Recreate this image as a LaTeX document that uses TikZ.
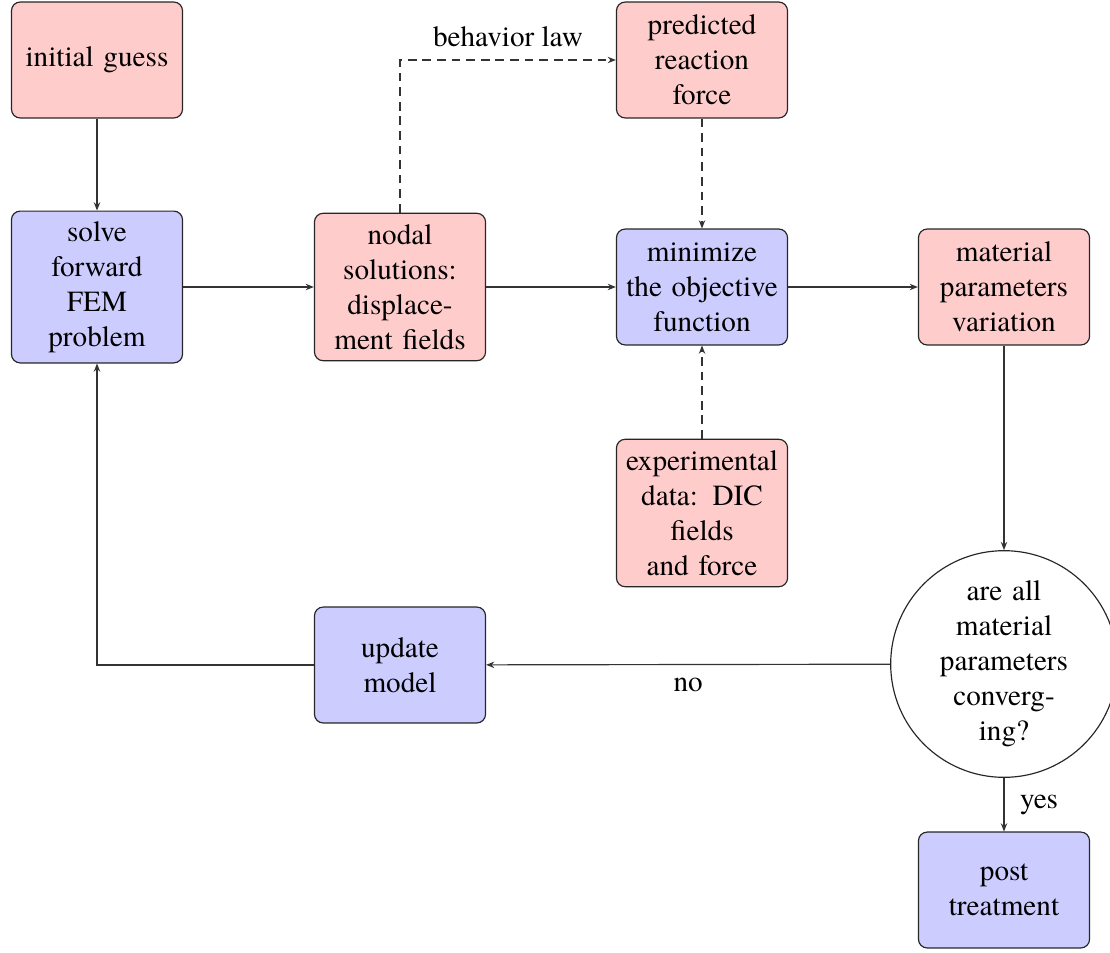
\documentclass[tikz,border=0pt]{standalone}
\usepackage{fontspec}
\setmainfont{texgyretermes}[Extension=.otf,UprightFont=*-regular,BoldFont=*-bold,ItalicFont=*-italic,BoldItalicFont=*-bolditalic]
\usetikzlibrary{arrows.meta,shapes.geometric}
\begin{document}
\begin{tikzpicture}[x=0.3425pt,y=-0.3425pt,
  font=\rmfamily\fontsize{10}{12}\selectfont,
  box/.style={draw=black!85,rounded corners=3pt,align=center,text width=53pt,
    minimum width=58.6pt,minimum height=39.7pt,inner xsep=2.8pt,inner ysep=3.2pt},
  pinkbox/.style={box,fill=red!20},
  bluebox/.style={box,fill=blue!20},
  decision/.style={draw=black!85,circle,align=center,text width=53pt,minimum size=73pt,inner sep=0pt},
  arr/.style={draw=black!80,line width=0.4pt,-{Stealth[length=2.8pt,width=2.2pt]}},
  dsh/.style={arr,dash pattern=on 3pt off 2pt}]
\useasboundingbox (0,0) rectangle (1110,952);
\node[pinkbox] (init) at (97,60) {initial guess};
\node[bluebox,minimum height=52pt] (solve) at (97,287) {solve\\forward\\FEM\\problem};
\node[pinkbox,minimum height=50.5pt] (nodal) at (400,287) {nodal\\solutions:\\displace-\\ment fields};
\node[pinkbox] (pred) at (702,60) {predicted\\reaction\\force};
\node[bluebox] (mini) at (702,287) {minimize\\the objective\\function};
\node[pinkbox] (mat) at (1004,287) {material\\parameters\\variation};
\node[pinkbox,minimum height=50.5pt] (exp) at (702,513) {experimental\\data: DIC\\fields\\and force};
\node[bluebox] (update) at (400,665) {update\\model};
\node[decision] (conv) at (1004,664) {are all\\material\\parameters\\converg-\\ing?};
\node[bluebox] (post) at (1004,890) {post\\treatment};
\draw[arr] (init) -- (solve);
\draw[arr] (solve) -- (nodal);
\draw[dsh] (nodal.north) |- node[pos=0.75,above=1pt] {behavior law} (pred.west);
\draw[dsh] (pred) -- (mini);
\draw[dsh] (exp) -- (mini);
\draw[arr] (nodal) -- (mini);
\draw[arr] (mini) -- (mat);
\draw[arr] (mat) -- (conv);
\draw[arr] (conv) -- node[below=1pt] {no} (update);
\draw[arr] (conv) -- node[right=2pt] {yes} (post);
\draw[arr] (update.west) -| (solve.south);
\end{tikzpicture}
\end{document}
